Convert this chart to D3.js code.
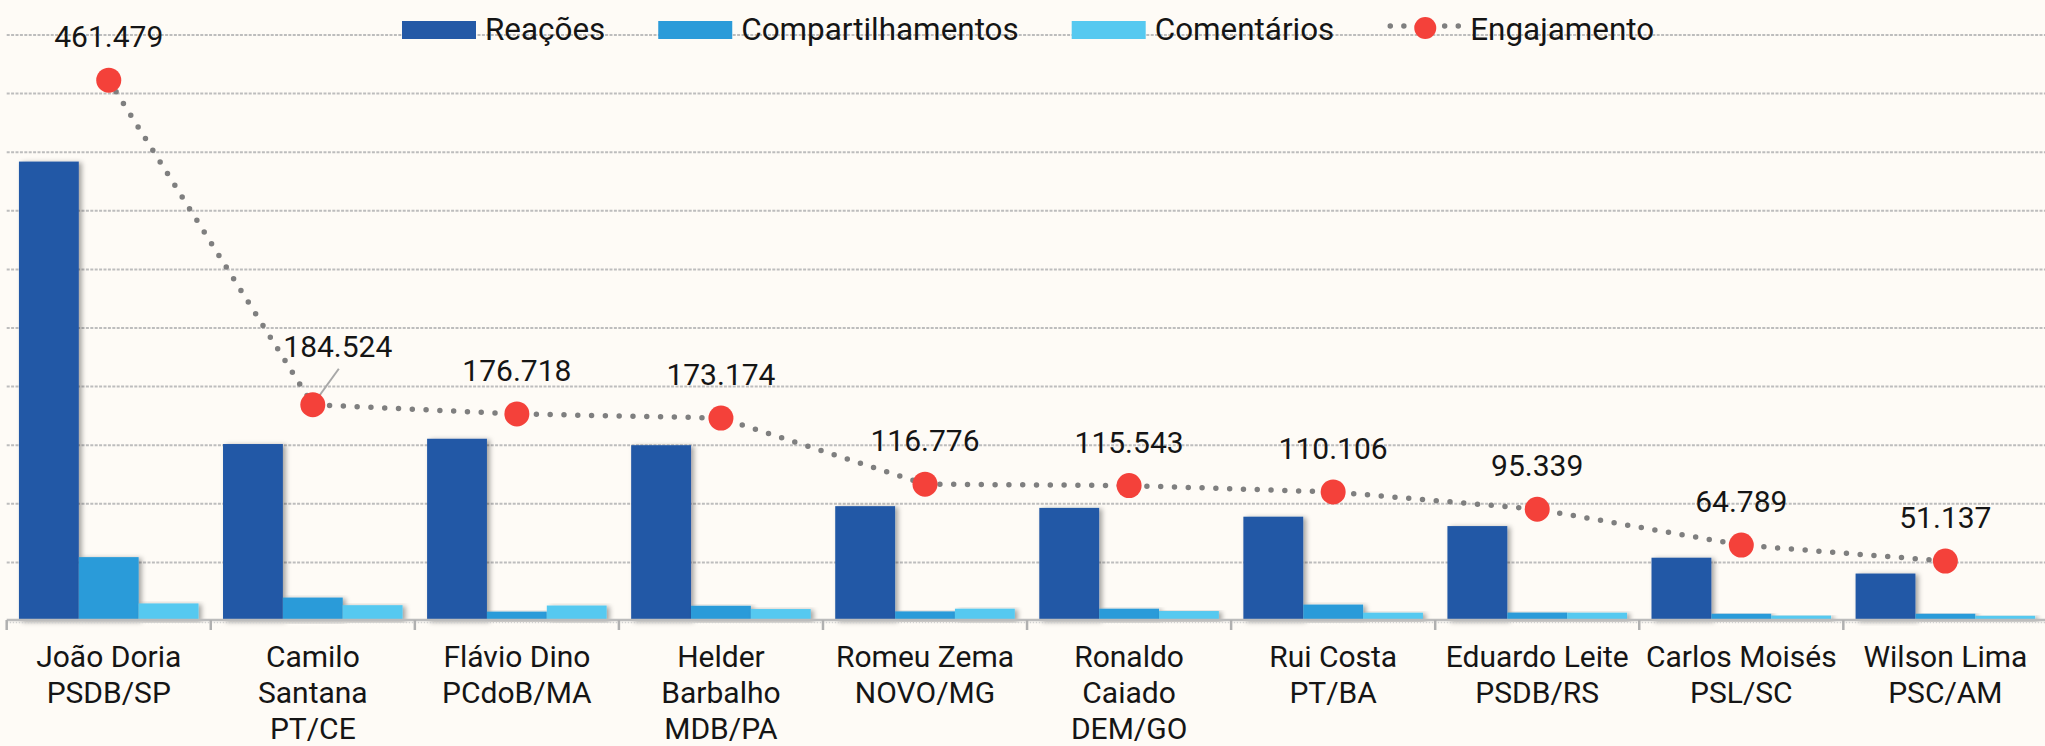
<!DOCTYPE html>
<html>
<head>
<meta charset="utf-8">
<script src="https://cdn.jsdelivr.net/npm/d3@7"></script>
<style>
  html, body { margin: 0; padding: 0; background: #fefbf6; }
  svg { display: block; font-family: Roboto, "Noto Sans", sans-serif; }
</style>
</head>
<body>
<svg id="chart" width="2045" height="746"></svg>
<script>
// ---------- DATA ----------
const categories = ["João Doria|PSDB/SP", "Camilo|Santana|PT/CE", "Flávio Dino|PCdoB/MA", "Helder|Barbalho|MDB/PA",
  "Romeu Zema|NOVO/MG", "Ronaldo|Caiado|DEM/GO", "Rui Costa|PT/BA", "Eduardo Leite|PSDB/RS",
  "Carlos Moisés|PSL/SC", "Wilson Lima|PSC/AM"];
const seriesNames = ["Reações", "Compartilhamentos", "Comentários"];
const reacoes = [392000, 151000, 155500, 150000, 98000, 96500, 89000, 81000, 54000, 40500];
const compartilhamentos = [54500, 20000, 8000, 13000, 8200, 10500, 14000, 7200, 6200, 6200];
const comentarios = [15000, 13500, 13200, 10200, 10500, 8500, 7100, 7100, 4600, 4400];
const engajamento = [461479, 184524, 176718, 173174, 116776, 115543, 110106, 95339, 64789, 51137];
const lineName = "Engajamento";
const yTicks = [50000, 100000, 150000, 200000, 250000, 300000, 350000, 400000, 450000, 500000];

// ---------- SETUP ----------
const W = 2045, H = 746;
const colors = { "Reações": "#2459a6", "Compartilhamentos": "#2b9bd9", "Comentários": "#56c9f0" };
const red = "#f4413a";
const seriesValues = [reacoes, compartilhamentos, comentarios];

const svg = d3.select("#chart");
const ptBR = d3.formatLocale({ decimal: ",", thousands: ".", grouping: [3], currency: ["R$", ""] });
const fmt = ptBR.format(",d");

const defs = svg.append("defs");
const f = defs.append("filter").attr("id", "shadow").attr("x", "-20%").attr("y", "-10%").attr("width", "140%").attr("height", "120%");
f.append("feDropShadow").attr("dx", 3).attr("dy", 1).attr("stdDeviation", 2.5)
  .attr("flood-color", "#000").attr("flood-opacity", 0.35);

const xStart = 6.7, xEnd = 2047.4;
const x0 = d3.scaleBand().domain(categories).range([xStart, xEnd]).paddingInner(0.12).paddingOuter(0.06);
const x1 = d3.scaleBand().domain(seriesNames).range([0, x0.bandwidth()]);
const y = d3.scaleLinear().domain([0, 500000]).range([621, 35]);

// gridlines
svg.append("g").selectAll("line").data(yTicks).join("line")
  .attr("x1", xStart).attr("x2", W)
  .attr("y1", d => y(d)).attr("y2", d => y(d))
  .attr("stroke", "#bdbdbd").attr("stroke-width", 2).attr("stroke-dasharray", "3,1.4");

// bars
const rows = categories.map((c, i) => ({ c, vals: seriesNames.map((s, k) => ({ s, v: seriesValues[k][i] })) }));
const groups = svg.append("g").selectAll("g").data(rows).join("g")
  .attr("transform", d => `translate(${x0(d.c)},0)`);
groups.selectAll("rect").data(d => d.vals).join("rect")
  .attr("x", d => x1(d.s)).attr("width", x1.bandwidth())
  .attr("y", d => y(d.v)).attr("height", d => y(0) - y(d.v))
  .attr("fill", d => colors[d.s])
  .attr("filter", "url(#shadow)");

// x axis
const step = x0.step();
const axisY = 620;
svg.append("line").attr("x1", xStart).attr("x2", W).attr("y1", axisY).attr("y2", axisY)
  .attr("stroke", "#bcbcbc").attr("stroke-width", 2.5);
svg.append("line").attr("x1", xStart).attr("x2", W).attr("y1", axisY + 2.5).attr("y2", axisY + 2.5)
  .attr("stroke", "#d0d0d0").attr("stroke-width", 1.5).attr("stroke-dasharray", "1.5,1.5");
svg.append("g").selectAll("line").data(d3.range(categories.length + 1)).join("line")
  .attr("x1", i => xStart + i * step).attr("x2", i => xStart + i * step)
  .attr("y1", axisY).attr("y2", axisY + 10)
  .attr("stroke", "#b0b0b0").attr("stroke-width", 2.5);

// category labels
const lab = svg.append("g").selectAll("text").data(categories).join("text")
  .attr("text-anchor", "middle").attr("font-size", 30).attr("fill", "#151515")
  .attr("transform", d => `translate(${x0(d) + x0.bandwidth() / 2},667)`);
lab.selectAll("tspan").data(d => d.split("|")).join("tspan")
  .attr("x", 0).attr("y", (d, i) => i * 36).text(d => d);

// engagement line
const cx = (d, i) => x0(categories[i]) + x0.bandwidth() / 2;
const lineGen = d3.line().x((d, i) => cx(d, i)).y(d => y(d));
svg.append("path").datum(engajamento).attr("d", lineGen)
  .attr("fill", "none").attr("stroke", "#7f7f7f").attr("stroke-width", 5.5)
  .attr("stroke-linecap", "round").attr("stroke-dasharray", "0,13.8");

// leader line for the shifted label (Camilo)
const shifted = { 1: { dx: 25, dy: -48 } };
Object.keys(shifted).forEach(k => {
  const i = +k, o = shifted[k];
  svg.append("line")
    .attr("x1", cx(null, i) + o.dx + 1).attr("y1", y(engajamento[i]) + o.dy + 12)
    .attr("x2", cx(null, i)).attr("y2", y(engajamento[i]))
    .attr("stroke", "#a8a8a8").attr("stroke-width", 2);
});

svg.append("g").selectAll("circle").data(engajamento).join("circle")
  .attr("cx", (d, i) => cx(d, i)).attr("cy", d => y(d)).attr("r", 12.5).attr("fill", red);

svg.append("g").selectAll("text").data(engajamento).join("text")
  .attr("text-anchor", "middle").attr("font-size", 30).attr("fill", "#151515")
  .attr("x", (d, i) => cx(d, i) + (shifted[i] ? shifted[i].dx : 0))
  .attr("y", (d, i) => y(d) + (shifted[i] ? shifted[i].dy : -33))
  .text(d => fmt(d));

// legend
const legend = svg.append("g").attr("transform", "translate(402,0)");
let lx = 0;
const legendItems = seriesNames.map(s => ({ name: s, type: "bar" })).concat([{ name: lineName, type: "line" }]);
legendItems.forEach((it, idx) => {
  const g = legend.append("g").attr("transform", `translate(${lx},0)`);
  if (it.type === "bar") {
    g.append("rect").attr("x", 0).attr("y", 21).attr("width", 74).attr("height", 18)
      .attr("fill", colors[it.name]);
  } else {
    g.append("line").attr("x1", 3).attr("x2", 73).attr("y1", 26).attr("y2", 26)
      .attr("stroke", "#7f7f7f").attr("stroke-width", 5.5).attr("stroke-linecap", "round")
      .attr("stroke-dasharray", "0,13.6");
    g.append("circle").attr("cx", 38).attr("cy", 28).attr("r", 11).attr("fill", red);
  }
  const t = g.append("text").attr("x", 83).attr("y", 40).attr("font-size", 31.4).attr("fill", "#151515").text(it.name);
  lx += 83 + t.node().getComputedTextLength() + 53;
});
</script>
</body>
</html>
